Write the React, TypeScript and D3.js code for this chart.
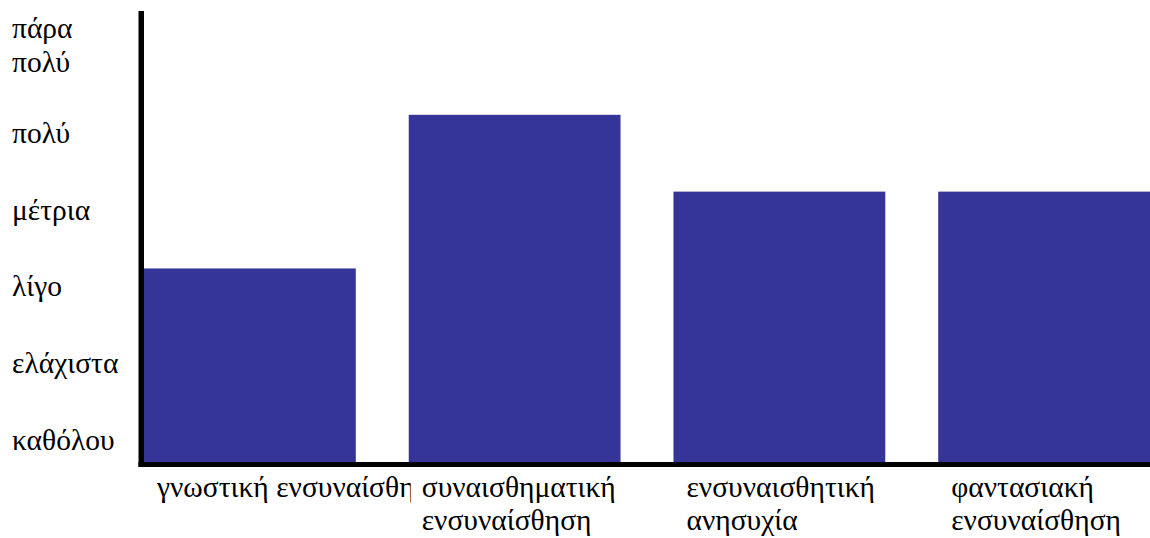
import React from "react";
import * as d3 from "d3";

const categories = [
  "γνωστική ενσυναίσθηση",
  "συναισθηματική ενσυναίσθηση",
  "ενσυναισθητική ανησυχία",
  "φαντασιακή ενσυναίσθηση",
];
const categoryLines = [
  ["γνωστική ενσυναίσθηση"],
  ["συναισθηματική", "ενσυναίσθηση"],
  ["ενσυναισθητική", "ανησυχία"],
  ["φαντασιακή", "ενσυναίσθηση"],
];
const values = [2, 4, 3, 3];
const levelLabels = [
  ["καθόλου"],
  ["ελάχιστα"],
  ["λίγο"],
  ["μέτρια"],
  ["πολύ"],
  ["πάρα", "πολύ"],
];
const levelValues = [0, 1, 2, 3, 4, 5];

const W = 1150;
const H = 538;
const FONT = "Liberation Serif";
const FS = 29.5;
const BAR = "#343499";

export default function App() {
  const x = d3.scaleBand<string>().domain(categories).range([144, 1150]).paddingInner(0.2).paddingOuter(0);
  const y = d3.scaleLinear().domain([-0.52, 5]).range([462, 38]);
  const y0 = y(-0.52);

  return (
    <svg width={W} height={H} style={{ position: "absolute", left: 0, top: 0, background: "#fff" }}>
      <defs>
        {categories.map((c, i) => (
          <clipPath id={"xclip" + i} key={c}>
            <rect x={x(c)! - 20} y={470} width={x.step() + 22} height={70} />
          </clipPath>
        ))}
      </defs>
      <g>
        {categories.map((c, i) => (
          <rect
            key={c}
            x={x(c)!}
            width={x.bandwidth()}
            y={y(values[i])}
            height={y0 - y(values[i])}
            fill={BAR}
          />
        ))}
      </g>
      <rect x={138.5} y={11} width={5.5} height={456} fill="#000" />
      <rect x={138.5} y={462} width={W - 138.5} height={5} fill="#000" />
      <g fontFamily={FONT} fontSize={FS} fill="#000">
        {levelValues.map((v, i) => {
          const lines = levelLabels[i];
          const base = y(v) + 28 - (lines.length - 1) * 28;
          return (
            <text key={v} x={12} y={base}>
              {lines.map((ln, j) => (
                <tspan key={j} x={12} y={base + j * 34}>
                  {ln}
                </tspan>
              ))}
            </text>
          );
        })}
      </g>
      <g fontFamily={FONT} fontSize={FS} fill="#000">
        {categories.map((c, i) => {
          const left = x(c)! + 13;
          return (
            <text key={c} clipPath={`url(#xclip${i})`}>
              {categoryLines[i].map((ln, j) => (
                <tspan key={j} x={left} y={497 + j * 33}>
                  {ln}
                </tspan>
              ))}
            </text>
          );
        })}
      </g>
    </svg>
  );
}
